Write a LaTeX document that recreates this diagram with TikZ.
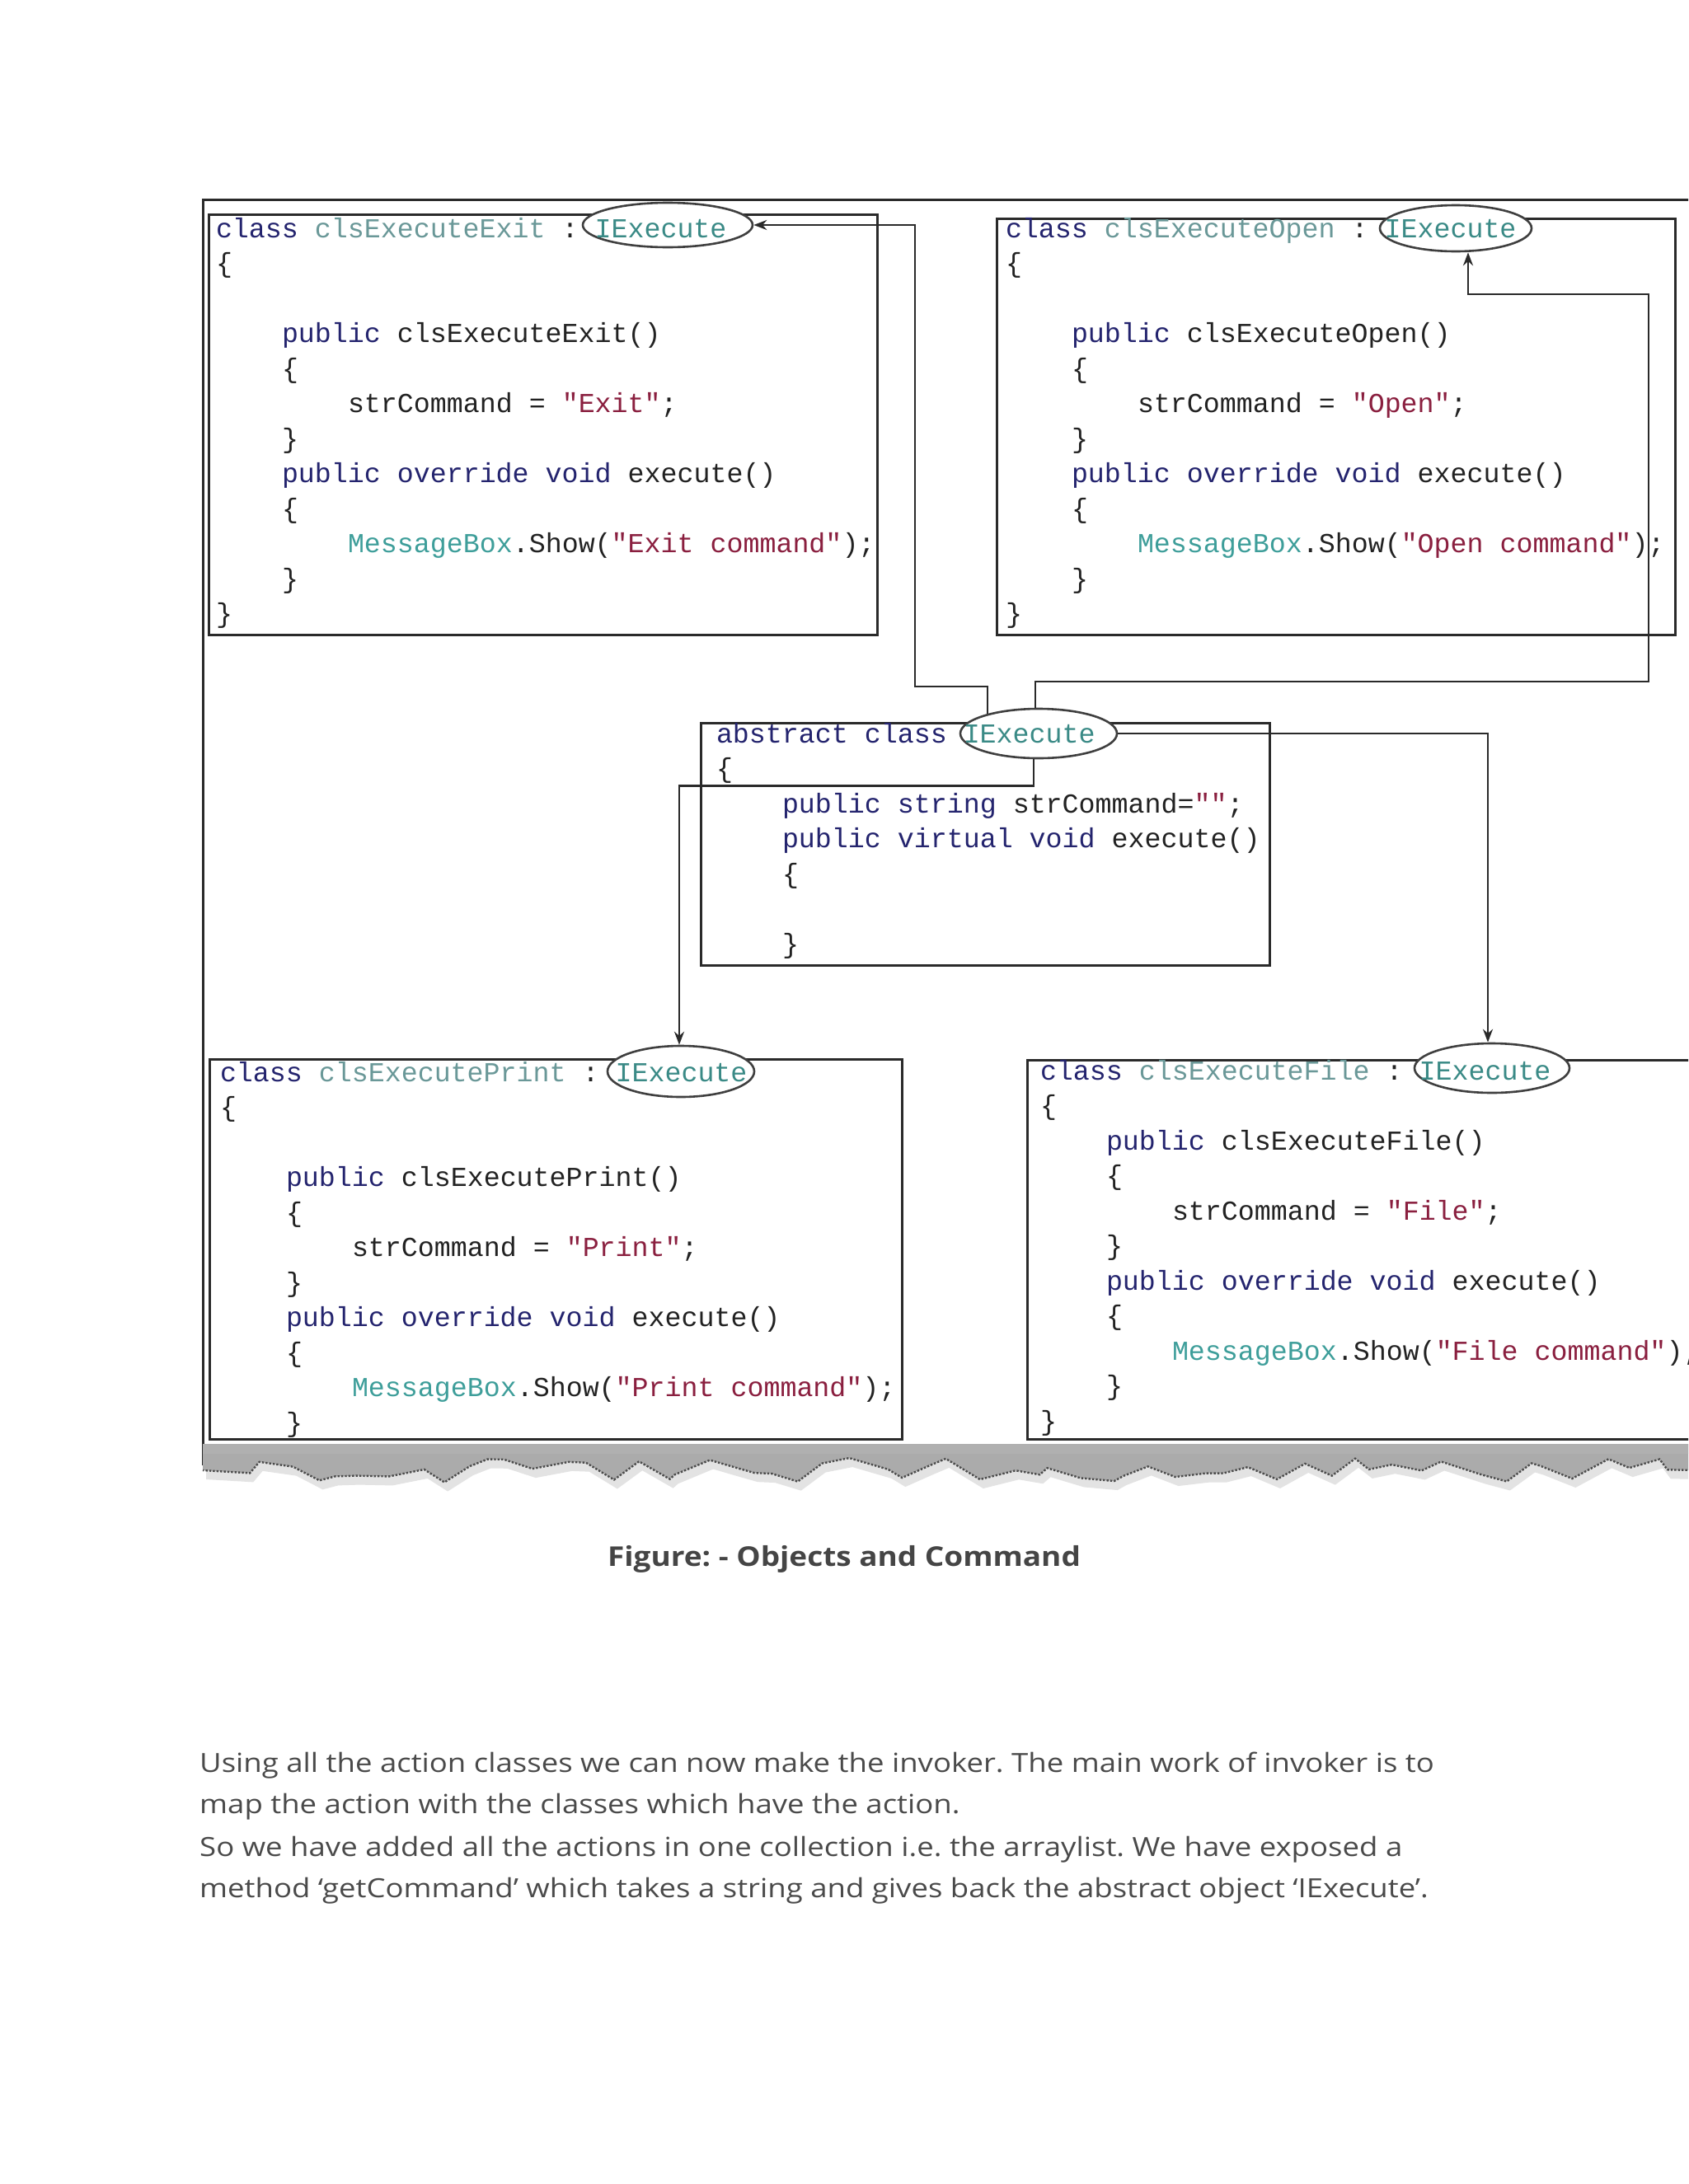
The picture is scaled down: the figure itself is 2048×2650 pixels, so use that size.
\documentclass[tikz,border=0pt]{standalone}
\usepackage{fontspec}
\setmainfont{Open Sans}
\newfontfamily\codefont{Liberation Mono}[WordSpace={1,0,0}]
\usetikzlibrary{shapes.geometric,arrows.meta,decorations.pathmorphing}
\definecolor{ckwc}{HTML}{24246E}
\definecolor{ccnc}{HTML}{6A9898}
\definecolor{ciec}{HTML}{3A8A86}
\definecolor{cmbc}{HTML}{3E9E9A}
\definecolor{cstc}{HTML}{8A1F3F}
\definecolor{ctxc}{HTML}{222222}
\definecolor{clnc}{HTML}{2A2A2A}
\definecolor{bodyc}{HTML}{4A4A4A}
\definecolor{capc}{HTML}{454545}
\newcommand\ckw[1]{\textcolor{ckwc}{#1}}
\newcommand\ccn[1]{\textcolor{ccnc}{#1}}
\newcommand\cie[1]{\textcolor{ciec}{#1}}
\newcommand\cmb[1]{\textcolor{cmbc}{#1}}
\newcommand\cst[1]{\textcolor{cstc}{#1}}
\newcommand\widen[1]{\scalebox{1.142}[1]{#1}}
\frenchspacing
\tikzset{
  codeline/.style={anchor=base west, inner sep=0pt, outer sep=0pt, text=ctxc,
    font=\codefont\fontsize{33.3}{40}\selectfont},
  codebox/.style={draw=clnc, line width=2.6pt, anchor=north west, inner sep=0pt},
  oval/.style={ellipse, draw=clnc!90, line width=2.6pt, fill=white, inner sep=0pt},
  conn/.style={draw=clnc, line width=2.4pt},
  arr/.style={conn, -{Stealth[length=16pt,width=12pt]}},
  bodytext/.style={anchor=base west, inner sep=0pt, text=bodyc, font=\fontsize{32}{40}\selectfont},
  captext/.style={anchor=base, inner sep=0pt, text=capc, font=\bfseries\fontsize{33}{40}\selectfont},
  tornedge/.style={decoration={random steps,segment length=30pt,amplitude=15pt}},
}
\begin{document}
\begin{tikzpicture}[x=1pt,y=-1pt]
\useasboundingbox (0,0) rectangle (2048,2650);
\clip (0,0) rectangle (2048,2650);
\fill[white] (0,0) rectangle (2048,2650);

% outer screenshot frame
\draw[clnc, line width=3pt] (246,1778) -- (246,242) -- (2060,242);

% boxes
\node[codebox, minimum width=811pt, minimum height=510pt] (exitbox) at (252,259) {};
\node[codebox, minimum width=823pt, minimum height=505pt] (openbox) at (1208,264) {};
\node[codebox, minimum width=690pt, minimum height=294pt] (absbox) at (849,876) {};
\node[codebox, minimum width=840pt, minimum height=461pt] (printbox) at (253,1284) {};
\node[codebox, minimum width=855pt, minimum height=460pt] (filebox) at (1245,1285) {};

% ellipses
\node[oval, minimum width=206pt, minimum height=54pt] (exitI) at (810,273) {};
\node[oval, minimum width=184pt, minimum height=56pt] (openI) at (1766,277) {};
\node[oval, minimum width=190pt, minimum height=60pt] (absI) at (1260,890) {};
\node[oval, minimum width=178pt, minimum height=62pt] (printI) at (826,1300) {};
\node[oval, minimum width=188pt, minimum height=60pt] (fileI) at (1810,1296) {};

% Exit class
\node[codeline] (e0) at (262,288) {\ckw{class} \ccn{clsExecuteExit} : \cie{IExecute}};
\node[codeline] (e1) at (262,330.5) {\{};
\node[codeline] (e3) at (342,415.5) {\ckw{public} clsExecuteExit()};
\node[codeline] (e4) at (342,458) {\{};
\node[codeline] (e5) at (422,500.5) {strCommand = \cst{"Exit"};};
\node[codeline] (e6) at (342,543) {\}};
\node[codeline] (e7) at (342,585.5) {\ckw{public override void} execute()};
\node[codeline] (e8) at (342,628) {\{};
\node[codeline] (e9) at (422,670.5) {\cmb{MessageBox}.Show(\cst{"Exit command"});};
\node[codeline] (e10) at (342,713) {\}};
\node[codeline] (e11) at (262,755.5) {\}};

% Open class
\node[codeline] (o0) at (1220,288) {\ckw{class} \ccn{clsExecuteOpen} : \cie{IExecute}};
\node[codeline] (o1) at (1220,330.5) {\{};
\node[codeline] (o3) at (1300,415.5) {\ckw{public} clsExecuteOpen()};
\node[codeline] (o4) at (1300,458) {\{};
\node[codeline] (o5) at (1380,500.5) {strCommand = \cst{"Open"};};
\node[codeline] (o6) at (1300,543) {\}};
\node[codeline] (o7) at (1300,585.5) {\ckw{public override void} execute()};
\node[codeline] (o8) at (1300,628) {\{};
\node[codeline] (o9) at (1380,670.5) {\cmb{MessageBox}.Show(\cst{"Open command"});};
\node[codeline] (o10) at (1300,713) {\}};
\node[codeline] (o11) at (1220,755.5) {\}};

% abstract class
\node[codeline] (a0) at (869,901) {\ckw{abstract class} \cie{IExecute}};
\node[codeline] (a1) at (869,943.5) {\{};
\node[codeline] (a2) at (949,986) {\ckw{public string} strCommand=\cst{""};};
\node[codeline] (a3) at (949,1028.5) {\ckw{public virtual void} execute()};
\node[codeline] (a4) at (949,1071) {\{};
\node[codeline] (a6) at (949,1156) {\}};

% Print class
\node[codeline] (p0) at (267,1312) {\ckw{class} \ccn{clsExecutePrint} : \cie{IExecute}};
\node[codeline] (p1) at (267,1354.5) {\{};
\node[codeline] (p3) at (347,1439.5) {\ckw{public} clsExecutePrint()};
\node[codeline] (p4) at (347,1482) {\{};
\node[codeline] (p5) at (427,1524.5) {strCommand = \cst{"Print"};};
\node[codeline] (p6) at (347,1567) {\}};
\node[codeline] (p7) at (347,1609.5) {\ckw{public override void} execute()};
\node[codeline] (p8) at (347,1652) {\{};
\node[codeline] (p9) at (427,1694.5) {\cmb{MessageBox}.Show(\cst{"Print command"});};
\node[codeline] (p10) at (347,1737) {\}};

% File class
\node[codeline] (f0) at (1262,1310) {\ckw{class} \ccn{clsExecuteFile} : \cie{IExecute}};
\node[codeline] (f1) at (1262,1352.5) {\{};
\node[codeline] (f2) at (1342,1395) {\ckw{public} clsExecuteFile()};
\node[codeline] (f3) at (1342,1437.5) {\{};
\node[codeline] (f4) at (1422,1480) {strCommand = \cst{"File"};};
\node[codeline] (f5) at (1342,1522.5) {\}};
\node[codeline] (f6) at (1342,1565) {\ckw{public override void} execute()};
\node[codeline] (f7) at (1342,1607.5) {\{};
\node[codeline] (f8) at (1422,1650) {\cmb{MessageBox}.Show(\cst{"File command"});};
\node[codeline] (f9) at (1342,1692.5) {\}};
\node[codeline] (f10) at (1262,1735) {\}};

% connectors
\coordinate (b1) at (1110,833);
\coordinate (b2) at (2000,827);
\coordinate (b3) at (1781,357);
\draw[arr] ([xshift=-62pt,yshift=-7pt]absI.north) |- (b1) |- (exitI.east);
\draw[arr] ([xshift=-4pt]absI.north) |- (b2) |- (b3) -- ([xshift=15pt]openI.south);
\draw[arr] (absI.east) -| ([xshift=-5pt]fileI.north);
\draw[arr] ([xshift=-6pt]absI.south) -- ++(0,32) -| ([xshift=-2pt]printI.north);

% torn bottom edge
\pgfmathsetseed{5}
\fill[gray!22, shift={(4,11)}] (246,1752) -- (2060,1752) -- (2060,1784)
  decorate[tornedge] {-- (246,1784)} -- cycle;
\pgfmathsetseed{5}
\fill[gray!66] (246,1752) -- (2060,1752) -- (2060,1784)
  decorate[tornedge] {-- (246,1784)} -- cycle;
\pgfmathsetseed{5}
\draw[black!70, line width=2.4pt, dotted] (2060,1784) decorate[tornedge] {-- (246,1784)};
\fill[gray!62] (246,1752) rectangle (2060,1764);

% caption
\node[captext] (cap) at (1024,1900) {\scalebox{1.12}[1]{Figure: - Objects and Command}};

% body text
\node[bodytext] (t1) at (242,2150) {\widen{Using all the action classes we can now make the invoker. The main work of invoker is to}};
\node[bodytext] (t2) at (242,2200) {\widen{map the action with the classes which have the action.}};
\node[bodytext] (t3) at (242,2252) {\widen{So we have added all the actions in one collection i.e. the arraylist. We have exposed a}};
\node[bodytext] (t4) at (242,2302) {\widen{method ‘getCommand’ which takes a string and gives back the abstract object ‘IExecute’.}};
\end{tikzpicture}
\end{document}
